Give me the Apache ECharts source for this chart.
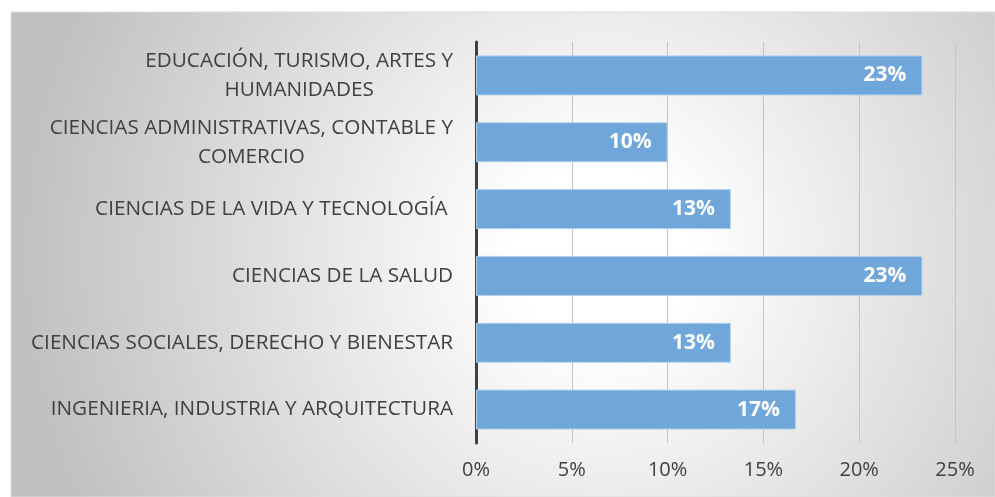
<!DOCTYPE html>
<html>
<head>
<meta charset="utf-8">
<script src="https://cdn.jsdelivr.net/npm/echarts@6/dist/echarts.min.js"></script>
<style>
  html, body { margin: 0; padding: 0; background: #ffffff; }
  #chart { width: 995px; height: 497px; }
</style>
</head>
<body>
<div id="chart"></div>
<script>
  // categories, top to bottom
  const categories = [
    'EDUCACIÓN, TURISMO, ARTES Y\nHUMANIDADES',
    'CIENCIAS ADMINISTRATIVAS, CONTABLE Y\nCOMERCIO',
    'CIENCIAS DE LA VIDA Y TECNOLOGÍA ',
    'CIENCIAS DE LA SALUD',
    'CIENCIAS SOCIALES, DERECHO Y BIENESTAR',
    'INGENIERIA, INDUSTRIA Y ARQUITECTURA'
  ];
  // share in percent
  const shares = [23.3, 10, 13.3, 23.3, 13.3, 16.7];
  const xTicks = [0, 5, 10, 15, 20, 25];

  const font = 'Open Sans';
  const chart = echarts.init(document.getElementById('chart'));

  chart.setOption({
    animation: false,
    graphic: [{
      type: 'rect',
      z: -10,
      silent: true,
      shape: { x: 11, y: 12, width: 984, height: 485 },
      style: {
        fill: new echarts.graphic.RadialGradient(0.6, 0.5, 1.2, [
          { offset: 0, color: '#ffffff' },
          { offset: 0.15, color: '#ffffff' },
          { offset: 1, color: '#c0c0c0' }
        ]),
        stroke: '#dcdcdc',
        lineWidth: 1
      }
    }],
    grid: { left: 476, right: 40, top: 42, bottom: 54 },
    xAxis: {
      type: 'value',
      min: xTicks[0],
      max: xTicks[xTicks.length - 1],
      interval: 5,
      axisLine: { show: false },
      axisTick: { show: false },
      splitLine: { lineStyle: { color: '#c4c4c4', width: 1 } },
      axisLabel: {
        formatter: '{value}%',
        color: '#404040',
        fontFamily: font,
        fontSize: 20,
        margin: 17
      }
    },
    yAxis: {
      type: 'category',
      inverse: true,
      data: categories,
      axisLine: { lineStyle: { color: '#404040', width: 3 } },
      axisTick: { show: false },
      axisLabel: {
        color: '#404040',
        fontFamily: font,
        fontSize: 20.7,
        margin: 23,
        formatter: function (v) {
          return v.split('\n').map(function (s) { return '{c|' + s + '}'; }).join('\n');
        },
        rich: {
          c: { align: 'center', color: '#404040', fontFamily: font, fontSize: 20.7, lineHeight: 29 }
        }
      }
    },
    series: [{
      type: 'bar',
      data: shares,
      barWidth: 40,
      itemStyle: {
        color: '#70a7da',
        borderColor: '#b3cfea',
        borderWidth: 1
      },
      label: {
        show: true,
        position: 'insideRight',
        distance: 16,
        color: '#ffffff',
        fontFamily: font,
        fontWeight: 'bold',
        fontSize: 21,
        formatter: function (p) { return Math.round(p.value) + '%'; }
      }
    }]
  });
</script>
</body>
</html>
